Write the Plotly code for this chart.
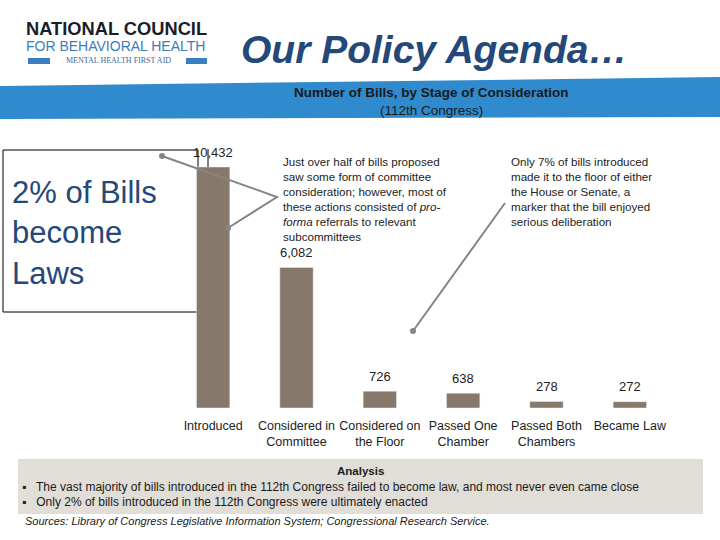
import plotly.graph_objects as go

# ---- data ----
stages = ["Introduced", "Considered in<br>Committee", "Considered on<br>the Floor",
          "Passed One<br>Chamber", "Passed Both<br>Chambers", "Became Law"]
bills = [10432, 6082, 726, 638, 278, 272]
value_labels = ["10,432", "6,082", "726", "638", "278", "272"]

W, H = 720, 540
def px(x):
    return x / W
def py(y):
    return 1 - y / H

SANS = "Liberation Sans, Arial, sans-serif"
BAR = "#86786a"
DARKBLUE = "#24487a"

fig = go.Figure()
fig.add_trace(go.Bar(x=stages, y=bills, marker_color=BAR, width=0.4,
                     hoverinfo="skip", showlegend=False))

# value labels via data coordinates
for s, v, t in zip(stages, bills, value_labels):
    fig.add_annotation(x=s, y=v, xref="x", yref="y", text=t, showarrow=False,
                       yshift=15, font=dict(family=SANS, size=13, color="#222"))

ytop_px = 150
ymax = bills[0] * (408 - ytop_px) / (408 - 167)

fig.update_layout(
    width=W, height=H, margin=dict(l=0, r=0, t=0, b=0), autosize=False,
    paper_bgcolor="white", plot_bgcolor="rgba(0,0,0,0)",
    xaxis=dict(domain=[px(171.5), px(671.5)], showgrid=False, showline=False,
               zeroline=False, ticks="", tickangle=0, ticklabelstandoff=8,
               tickfont=dict(family=SANS, size=12.5, color="#222"),
               fixedrange=True),
    yaxis=dict(domain=[py(408), py(ytop_px)], range=[0, ymax], visible=False,
               showgrid=False, zeroline=False),
    bargap=0.6,
)

shapes = []
# blue band (slanted)
shapes.append(dict(type="path", xref="paper", yref="paper",
                   path=f"M 0 {py(86)} L 1 {py(77)} L 1 {py(117)} L 0 {py(119)} Z",
                   fillcolor="#2f8bcd", line=dict(width=0), layer="below"))
# logo bars
shapes.append(dict(type="rect", xref="paper", yref="paper", x0=px(28), x1=px(50),
                   y0=py(64), y1=py(58), fillcolor="#3b7fc0", line=dict(width=0)))
shapes.append(dict(type="rect", xref="paper", yref="paper", x0=px(186), x1=px(207),
                   y0=py(64), y1=py(58), fillcolor="#3b7fc0", line=dict(width=0)))
# 2% box
shapes.append(dict(type="rect", xref="paper", yref="paper", x0=px(3), x1=px(198),
                   y0=py(312), y1=py(150), line=dict(color="black", width=1),
                   fillcolor="rgba(0,0,0,0)", layer="below"))
# small tick line at first label
shapes.append(dict(type="line", xref="paper", yref="paper", x0=px(208), x1=px(208),
                   y0=py(149), y1=py(167), line=dict(color="black", width=1)))
# callout lines
shapes.append(dict(type="path", xref="paper", yref="paper",
                   path=f"M {px(162)} {py(156)} L {px(277)} {py(197)} L {px(228)} {py(228)}",
                   line=dict(color="#858585", width=2)))
shapes.append(dict(type="line", xref="paper", yref="paper", x0=px(505), y0=py(203),
                   x1=px(413), y1=py(331), line=dict(color="#858585", width=2)))
for cx, cy in [(162, 156), (228, 228), (413, 331)]:
    shapes.append(dict(type="circle", xref="paper", yref="paper",
                       x0=px(cx - 3), x1=px(cx + 3), y0=py(cy + 3), y1=py(cy - 3),
                       fillcolor="#858585", line=dict(width=0)))
# analysis box
shapes.append(dict(type="rect", xref="paper", yref="paper", x0=px(18), x1=px(703),
                   y0=py(514), y1=py(459), fillcolor="#e1ded8", line=dict(width=0),
                   layer="below"))
fig.update_layout(shapes=shapes)

def ann(x, y, text, size, color="#222", family=SANS, xanchor="left", yanchor="middle",
        align="left"):
    fig.add_annotation(x=px(x), y=py(y), xref="paper", yref="paper", text=text,
                       showarrow=False, xanchor=xanchor, yanchor=yanchor, align=align,
                       font=dict(family=family, size=size, color=color))

# logo
ann(24, 29, "<b>NATIONAL COUNCIL</b>", 18.3, color="#1b1d2a")
ann(24, 46, "FOR BEHAVIORAL HEALTH", 14, color="#3c7dbd")
ann(118, 61, "MENTAL HEALTH FIRST AID", 8, color="#3c6a9a",
    family="Liberation Serif, Times New Roman, serif", xanchor="center", align="center")
# main title
ann(434, 50, "<b><i>Our Policy Agenda…</i></b>", 39, color=DARKBLUE, xanchor="center",
    align="center")
# chart title
ann(431, 92, "<b>Number of Bills, by Stage of Consideration</b>", 13.5, color="#1a1a1a",
    xanchor="center", align="center")
ann(431, 111, "(112th Congress)", 13.5, color="#1a1a1a",
    xanchor="center", align="center")
# 2% box text
ann(10, 233, "2% of Bills<br>become<br>Laws", 31, color=DARKBLUE)
# callouts
ann(281, 153, "Just over half of bills proposed<br>saw some form of committee<br>"
    "consideration; however, most of<br>these actions consisted of <i>pro-</i><br>"
    "<i>forma</i> referrals to relevant<br>subcommittees", 11.6, yanchor="top")
ann(509, 153, "Only 7% of bills introduced<br>made it to the floor of either<br>"
    "the House or Senate, a<br>marker that the bill enjoyed<br>serious deliberation",
    11.6, yanchor="top")
# analysis
ann(360, 471, "<b>Analysis</b>", 11.5, color="#1a1a1a", xanchor="center", align="center")
ann(20, 487, "▪   The vast majority of bills introduced in the 112th Congress failed to become law, and most never even came close",
    12, color="#1a1a1a")
ann(20, 502, "▪   Only 2% of bills introduced in the 112th Congress were ultimately enacted",
    12, color="#1a1a1a")
ann(23, 521, "<i>Sources: Library of Congress Legislative Information System; Congressional Research Service.</i>",
    11, color="#1a1a1a")

post = ("document.body.style.margin='0';document.body.style.padding='0';"
        "document.body.style.overflow='hidden';"
        "var gd=document.getElementById('{plot_id}');"
        "Plotly.relayout(gd,{width:720,height:540});")
fig.write_html("out.html", post_script=post, config={"displayModeBar": False})
